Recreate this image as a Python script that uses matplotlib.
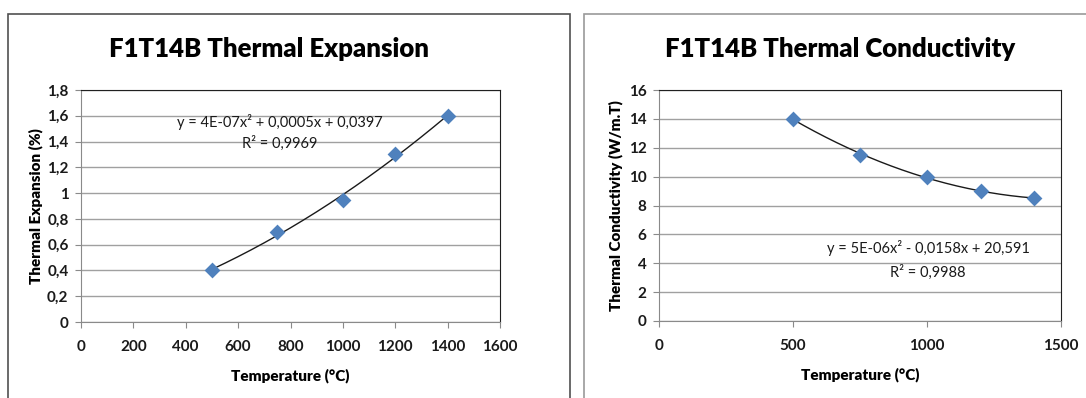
import numpy as np
import matplotlib
matplotlib.use("Agg")
import matplotlib.pyplot as plt
from matplotlib.patches import Rectangle

plt.rcParams['font.family'] = ['Lato', 'DejaVu Sans']

temps = [500, 750, 1000, 1200, 1400]
expansion = [0.4, 0.7, 0.95, 1.3, 1.6]
conductivity = [14, 11.5, 10, 9, 8.5]

exp_yticks = [0, 0.2, 0.4, 0.6, 0.8, 1, 1.2, 1.4, 1.6, 1.8]
exp_ylabels = ['0', '0,2', '0,4', '0,6', '0,8', '1', '1,2', '1,4', '1,6', '1,8']
exp_xticks = [0, 200, 400, 600, 800, 1000, 1200, 1400, 1600]
con_yticks = [0, 2, 4, 6, 8, 10, 12, 14, 16]
con_xticks = [0, 500, 1000, 1500]

W, H = 1086, 398
fig = plt.figure(figsize=(W / 100, H / 100), dpi=100)

def px(x0, y0, x1, y1):
    return [x0 / W, 1 - y1 / H, (x1 - x0) / W, (y1 - y0) / H]

# frames
fig.patches.append(Rectangle((8 / W, -0.05), (570 - 8) / W, 1 - 14 / H + 0.05,
                             transform=fig.transFigure, fill=False, ec='#505050', lw=1.2))
fig.patches.append(Rectangle((584 / W, -0.05), (1090 - 584) / W, 1 - 14 / H + 0.05,
                             transform=fig.transFigure, fill=False, ec='#9a9a9a', lw=1.2))

blue = '#4F81BD'

def style(ax):
    ax.grid(axis='y', color='#a0a0a0', lw=1)
    ax.set_axisbelow(True)
    for s in ['left', 'bottom']:
        ax.spines[s].set_color('#8a8a8a')
    for s in ['top', 'right']:
        ax.spines[s].set_color('#202020')
    ax.tick_params(axis='both', direction='out', length=4, color='#8a8a8a',
                   labelsize=11, pad=5)
    ax.tick_params(axis='x', pad=9)
    for lab in ax.get_xticklabels() + ax.get_yticklabels():
        lab.set_fontweight('bold')
        lab.set_color('#1a1a1a')

def fit_line(ax, x, y):
    c = np.polyfit(x, y, 2)
    xs = np.linspace(min(x), max(x), 200)
    ax.plot(xs, np.polyval(c, xs), color='#1a1a1a', lw=1.0, zorder=3)

# left chart
ax1 = fig.add_axes(px(81, 90, 500, 322))
ax1.set_xlim(0, 1600)
ax1.set_ylim(0, 1.8)
ax1.set_xticks(exp_xticks)
ax1.set_yticks(exp_yticks)
ax1.set_yticklabels(exp_ylabels)
fit_line(ax1, temps, expansion)
ax1.scatter(temps, expansion, marker='D', s=65, color=blue, zorder=4, linewidths=0)
style(ax1)
ax1.set_xlabel('Temperature (°C)', fontsize=11, fontweight='heavy', labelpad=10)
ax1.set_ylabel('Thermal Expansion (%)', fontsize=11, fontweight='heavy', labelpad=3)
fig.text(269 / W, 1 - 49 / H, 'F1T14B Thermal Expansion', ha='center', va='center',
         fontsize=18.5, fontweight='heavy')
fig.text(280 / W, 1 - 122 / H, 'y = 4E-07x² + 0,0005x + 0,0397', ha='center',
         va='center', fontsize=10.5, color='#1a1a1a')
fig.text(280 / W, 1 - 143 / H, 'R² = 0,9969', ha='center', va='center',
         fontsize=10.5, color='#1a1a1a')

# right chart
ax2 = fig.add_axes(px(659, 90, 1061, 321))
ax2.set_xlim(0, 1500)
ax2.set_ylim(0, 16)
ax2.set_xticks(con_xticks)
ax2.set_yticks(con_yticks)
fit_line(ax2, temps, conductivity)
ax2.scatter(temps, conductivity, marker='D', s=65, color=blue, zorder=4, linewidths=0)
style(ax2)
ax2.set_xlabel('Temperature (°C)', fontsize=11, fontweight='heavy', labelpad=10)
ax2.set_ylabel('Thermal Conductivity (W/m.T)', fontsize=11, fontweight='heavy', labelpad=4)
fig.text(840 / W, 1 - 49 / H, 'F1T14B Thermal Conductivity', ha='center', va='center',
         fontsize=18.5, fontweight='heavy')
fig.text(928 / W, 1 - 248 / H, 'y = 5E-06x² - 0,0158x + 20,591', ha='center',
         va='center', fontsize=10.5, color='#1a1a1a')
fig.text(928 / W, 1 - 272 / H, 'R² = 0,9988', ha='center', va='center',
         fontsize=10.5, color='#1a1a1a')

fig.savefig('out.png', dpi=100)
